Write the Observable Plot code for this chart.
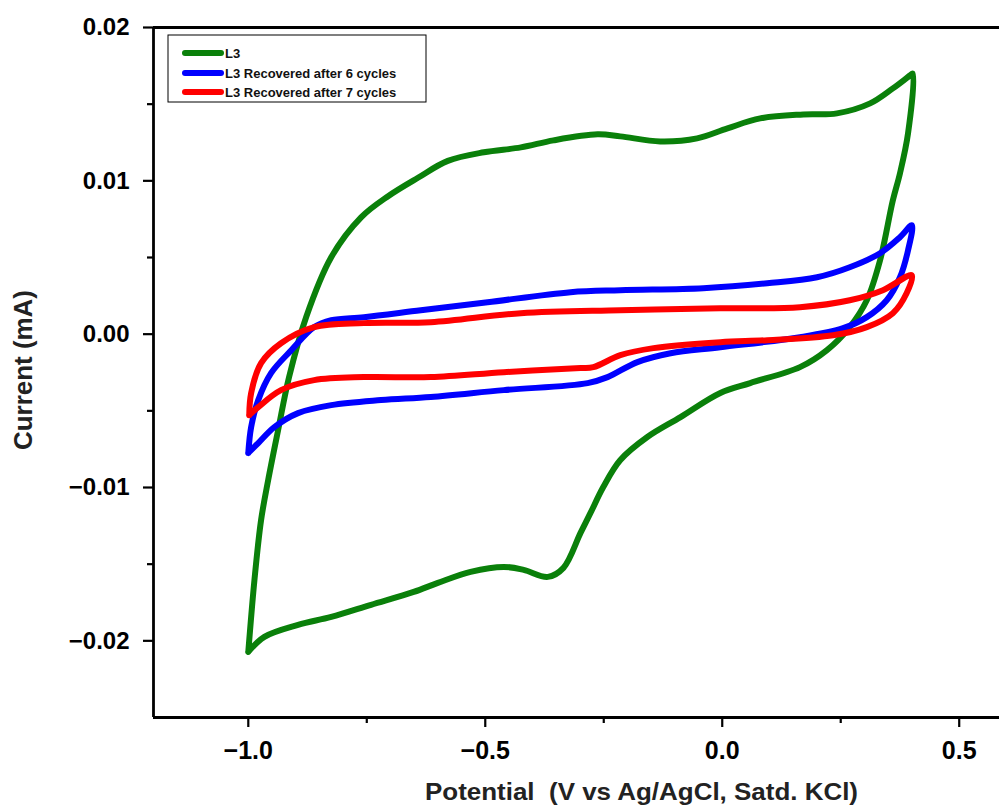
<!DOCTYPE html>
<html>
<head>
<meta charset="utf-8">
<script src="https://cdn.jsdelivr.net/npm/d3@7"></script>
<script src="https://cdn.jsdelivr.net/npm/@observablehq/plot@0.6"></script>
<style>
  html, body { margin: 0; padding: 0; background: #fff; }
  #chart { position: relative; width: 999px; height: 810px; overflow: hidden; }
</style>
</head>
<body>
<div id="chart"></div>
<script>
// ---- Data (potential in V, current in mA) ----
const seriesNames = ["L3", "L3 Recovered after 6 cycles", "L3 Recovered after 7 cycles"];
const seriesColors = ["#0a800a", "#0000ff", "#ff0000"];

const l3Potential = [-1.000,-0.966,-0.895,-0.825,-0.741,-0.651,-0.600,-0.531,-0.461,-0.419,-0.368,-0.335,-0.299,-0.278,-0.251,-0.215,-0.158,-0.088,-0.004,0.059,0.164,0.221,0.269,0.305,0.333,0.360,0.375,0.392,0.402,
  0.396,0.360,0.312,0.242,0.171,0.080,0.011,-0.053,-0.131,-0.215,-0.263,-0.356,-0.425,-0.503,-0.579,-0.642,-0.705,-0.762,-0.825,-0.878,-0.914,-0.937,-0.958,-0.973,-0.987,-1.000];
const l3Current = [-0.02072,-0.01974,-0.01896,-0.01844,-0.01765,-0.01681,-0.01622,-0.01550,-0.01518,-0.01537,-0.01583,-0.01524,-0.01296,-0.01166,-0.00997,-0.00821,-0.00671,-0.00541,-0.00384,-0.00319,-0.00215,-0.00104,0.00046,0.00221,0.00482,0.00873,0.01049,0.01309,0.01700,
  0.01687,0.01603,0.01505,0.01440,0.01433,0.01407,0.01342,0.01277,0.01257,0.01290,0.01303,0.01264,0.01218,0.01186,0.01130,0.01020,0.00900,0.00762,0.00502,0.00111,-0.00280,-0.00625,-0.00951,-0.01212,-0.01603,-0.02072];

const r6Potential = [-1.000,-0.979,-0.945,-0.895,-0.825,-0.720,-0.615,-0.461,-0.284,-0.242,-0.179,-0.109,-0.004,0.164,0.255,0.305,0.347,0.375,0.392,0.400,
  0.375,0.333,0.269,0.200,0.095,-0.040,-0.215,-0.320,-0.495,-0.636,-0.756,-0.825,-0.861,-0.909,-0.952,-0.979,-0.994,-1.000];
const r6Current = [-0.00775,-0.00710,-0.00606,-0.00515,-0.00463,-0.00430,-0.00410,-0.00365,-0.00319,-0.00280,-0.00182,-0.00124,-0.00085,-0.00020,0.00039,0.00111,0.00221,0.00371,0.00547,0.00710,
  0.00632,0.00528,0.00436,0.00371,0.00332,0.00300,0.00287,0.00274,0.00208,0.00156,0.00111,0.00091,0.00046,-0.00104,-0.00254,-0.00430,-0.00606,-0.00775];

const r7Potential = [-0.998,-0.979,-0.931,-0.861,-0.756,-0.615,-0.461,-0.299,-0.272,-0.215,-0.145,-0.004,0.095,0.234,0.305,0.360,0.389,0.400,
  0.339,0.269,0.164,-0.004,-0.215,-0.425,-0.615,-0.756,-0.861,-0.931,-0.973,-0.994,-0.998];
const r7Current = [-0.00528,-0.00476,-0.00365,-0.00300,-0.00280,-0.00280,-0.00248,-0.00221,-0.00215,-0.00137,-0.00091,-0.00052,-0.00039,-0.00007,0.00046,0.00137,0.00267,0.00384,
  0.00287,0.00221,0.00176,0.00169,0.00156,0.00137,0.00078,0.00072,0.00046,-0.00059,-0.00189,-0.00384,-0.00528];

const xMajorTicks = [-1.0, -0.5, 0.0, 0.5];
const xMinorTicks = [-0.75, -0.25, 0.25];
const yMajorTicks = [-0.02, -0.01, 0.00, 0.01, 0.02];
const yMinorTicks = [-0.015, -0.005, 0.005, 0.015];
const xDomain = [-1.2, 0.585];
const yDomain = [-0.025, 0.02];
const xLabel = "Potential  (V vs Ag/AgCl, Satd. KCl)";
const yLabel = "Current (mA)";

// ---- Build table ----
const pots = [l3Potential, r6Potential, r7Potential];
const curs = [l3Current, r6Current, r7Current];
const rows = [];
seriesNames.forEach((name, k) => {
  pots[k].forEach((v, j) => rows.push({series: name, v, i: curs[k][j], order: j}));
});

const fmt = (d, n) => d.toFixed(n).replace("-", "\u2212");
const tickFont = "'Liberation Sans', Arial, sans-serif";
const labelFont = "'Liberation Sans Narrow', 'Arial Narrow', 'Liberation Sans', Arial, sans-serif";

const plot = Plot.plot({
  width: 999,
  height: 810,
  marginLeft: 153,
  marginRight: 0,
  marginTop: 27,
  marginBottom: 93,
  style: {fontFamily: tickFont, background: "#fff", overflow: "visible"},
  x: {domain: xDomain},
  y: {domain: yDomain},
  color: {domain: seriesNames, range: seriesColors},
  marks: [
    Plot.axisX({ticks: xMajorTicks, tickSize: 10, tickPadding: 14, tickFormat: d => fmt(d, 1),
      fontSize: 25, fontWeight: "bold", strokeWidth: 2.2, label: null, fill: "#000"}),
    Plot.axisX({ticks: xMinorTicks, tickSize: 6, text: null, strokeWidth: 2.2, label: null}),
    Plot.axisY({ticks: yMajorTicks, tickSize: 10, tickPadding: 14, tickFormat: d => fmt(d, 2),
      fontSize: 24, fontWeight: "bold", strokeWidth: 2.2, label: null, fill: "#000"}),
    Plot.axisY({ticks: yMinorTicks, tickSize: 6, text: null, strokeWidth: 2.2, label: null}),
    Plot.ruleY([yDomain[0]], {stroke: "#000", strokeWidth: 2.8}),
    Plot.ruleY([yDomain[1]], {stroke: "#000", strokeWidth: 2.8}),
    Plot.ruleX([xDomain[0]], {stroke: "#000", strokeWidth: 2.8}),
    Plot.line(rows, {x: "v", y: "i", z: "series", stroke: "series", strokeWidth: 6,
      strokeLinejoin: "round", strokeLinecap: "round", curve: "catmull-rom"})
  ]
});

document.getElementById("chart").appendChild(plot);

// ---- Axis titles and legend ----
const svg = d3.select(plot);
svg.append("text")
  .attr("x", 425).attr("y", 800)
  .attr("text-anchor", "start")
  .attr("textLength", 433).attr("lengthAdjust", "spacingAndGlyphs")
  .attr("font-family", labelFont).attr("font-weight", "bold").attr("font-size", 24)
  .attr("fill", "#222")
  .text(xLabel);
svg.append("text")
  .attr("transform", "translate(32,450) rotate(-90)")
  .attr("text-anchor", "start")
  .attr("textLength", 160).attr("lengthAdjust", "spacingAndGlyphs")
  .attr("font-family", labelFont).attr("font-weight", "bold").attr("font-size", 25)
  .attr("fill", "#222")
  .text(yLabel);

const lg = svg.append("g");
lg.append("rect").attr("x", 168).attr("y", 35).attr("width", 258).attr("height", 67)
  .attr("fill", "#fff").attr("stroke", "#000").attr("stroke-width", 1);
const rowY = [53, 73, 92];
seriesNames.forEach((name, k) => {
  lg.append("line").attr("x1", 185).attr("x2", 221).attr("y1", rowY[k]).attr("y2", rowY[k])
    .attr("stroke", seriesColors[k]).attr("stroke-width", 6).attr("stroke-linecap", "round");
  lg.append("text").attr("x", 225).attr("y", rowY[k] + 5)
    .attr("text-anchor", "start")
    .attr("font-family", tickFont).attr("font-weight", "bold").attr("font-size", 13)
    .attr("fill", "#111")
    .text(name);
});
</script>
</body>
</html>
